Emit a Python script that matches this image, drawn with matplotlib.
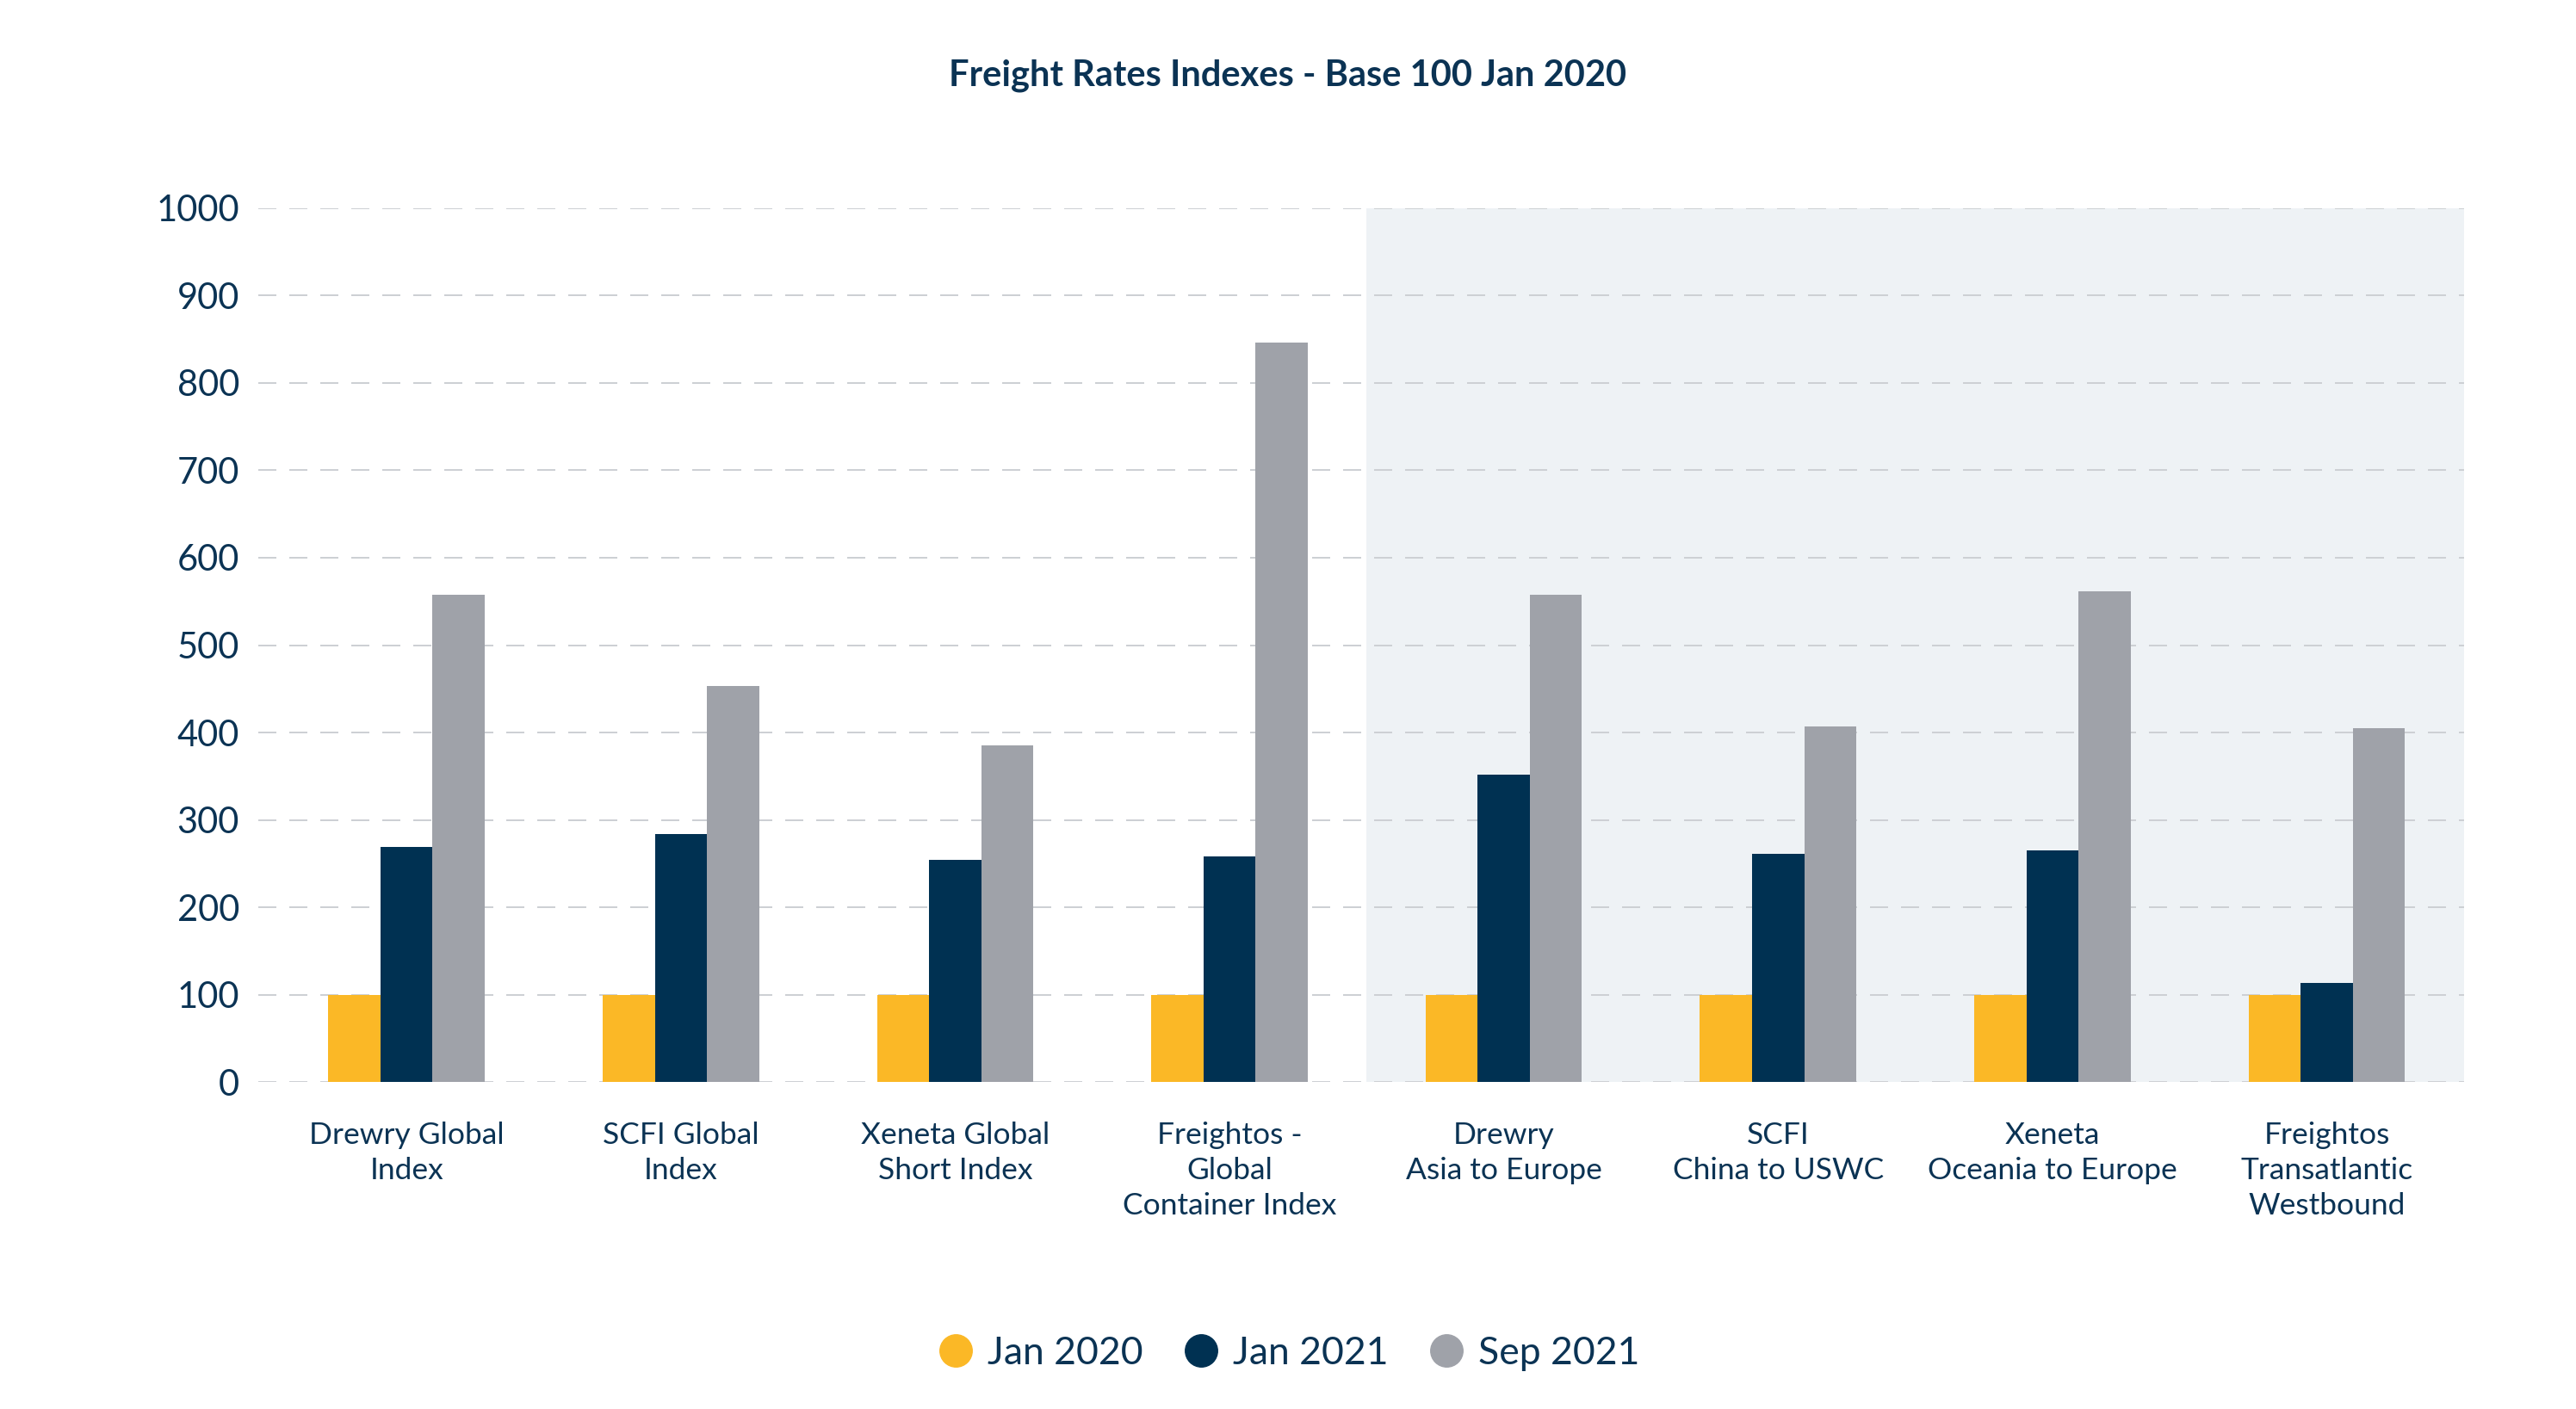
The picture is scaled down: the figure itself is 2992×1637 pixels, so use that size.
import matplotlib
matplotlib.use("Agg")
import matplotlib.pyplot as plt
from matplotlib.lines import Line2D
import numpy as np

plt.rcParams['font.family'] = ['Lato', 'DejaVu Sans']

# Categories and values (index, base 100 Jan 2020)
categories = ["Drewry Global\nIndex", "SCFI Global\nIndex", "Xeneta Global\nShort Index",
              "Freightos -\nGlobal\nContainer Index", "Drewry\nAsia to Europe",
              "SCFI\nChina to USWC", "Xeneta\nOceania to Europe",
              "Freightos\nTransatlantic\nWestbound"]
jan_2020 = [100, 100, 100, 100, 100, 100, 100, 100]
jan_2021 = [269, 284, 254, 258, 352, 261, 265, 113]
sep_2021 = [558, 453, 385, 846, 558, 407, 562, 405]
series_names = ["Jan 2020", "Jan 2021", "Sep 2021"]
yticks = [0, 100, 200, 300, 400, 500, 600, 700, 800, 900, 1000]

c_yellow = "#FBB826"
c_navy = "#003152"
c_gray = "#9FA2A9"
c_text = "#0B3354"
c_shade = "#EEF2F5"
c_grid = "#CDD0D4"

fig = plt.figure(figsize=(29.92, 16.37), dpi=100)
ax = fig.add_axes([0.1003, 0.2321, 0.8562, 0.6201])

x = np.arange(len(categories))
w = 0.19
ax.bar(x - w, jan_2020, w, color=c_yellow, zorder=3)
ax.bar(x, jan_2021, w, color=c_navy, zorder=3)
ax.bar(x + w, sep_2021, w, color=c_gray, zorder=3)

# shaded region for route-specific indexes
ax.axvspan(3.5, 7.5, ymin=0, ymax=1, color=c_shade, zorder=0, lw=0)

ax.set_xlim(-0.54, 7.5)
ax.set_ylim(0, 1000)
ax.set_yticks(yticks)
ax.set_yticklabels([str(v) for v in yticks], fontsize=30, color=c_text)
ax.set_xticks(x)
ax.set_xticklabels(categories, fontsize=25.5, color=c_text, linespacing=1.34, va='top')
ax.tick_params(axis='x', length=0, pad=33)
ax.tick_params(axis='y', length=0, pad=16)

ax.yaxis.grid(True, color=c_grid, linewidth=1.44, linestyle=(0, (10.5, 7.5)), zorder=1)
ax.set_axisbelow(False)
for s in ax.spines.values():
    s.set_visible(False)

fig.text(0.5, 0.9465, "Freight Rates Indexes - Base 100 Jan 2020", ha='center', va='center',
         fontsize=30, fontweight='bold', color=c_text)

handles = [Line2D([], [], marker='o', linestyle='none', markersize=27, color=c)
           for c in (c_yellow, c_navy, c_gray)]
fig.legend(handles, series_names, loc='center', bbox_to_anchor=(0.5, 0.0397), ncol=3,
           frameon=False, labelcolor=c_text, handlelength=1.0, handletextpad=0.35,
           columnspacing=1.0, prop={'size': 32})

fig.savefig("out.png", dpi=100)
